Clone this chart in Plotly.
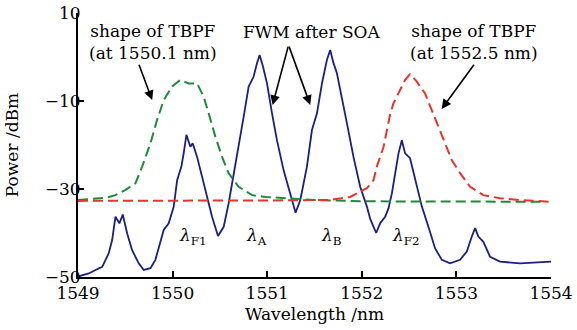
import plotly.graph_objects as go

# FWM after SOA (blue solid)
fwm_wl = [1549.00, 1549.060, 1549.114, 1549.185, 1549.256, 1549.325, 1549.361, 1549.396, 1549.438, 1549.473,
          1549.520, 1549.572, 1549.642, 1549.695, 1549.766, 1549.818, 1549.860, 1549.906, 1549.959, 1550.012,
          1550.048, 1550.093, 1550.117, 1550.146, 1550.188, 1550.212, 1550.259, 1550.312, 1550.364,
          1550.417, 1550.480, 1550.540, 1550.592, 1550.645, 1550.698, 1550.734, 1550.751, 1550.804,
          1550.856, 1550.892, 1550.920, 1550.956, 1550.998, 1551.051, 1551.103, 1551.173, 1551.244,
          1551.300, 1551.350, 1551.420, 1551.473, 1551.526, 1551.579, 1551.631, 1551.666, 1551.701,
          1551.737, 1551.790, 1551.843, 1551.912, 1551.983, 1552.054, 1552.089, 1552.152, 1552.194,
          1552.247, 1552.282, 1552.318, 1552.353, 1552.388, 1552.423, 1552.458, 1552.510, 1552.564,
          1552.635, 1552.704, 1552.775, 1552.846, 1552.933, 1553.039, 1553.110, 1553.163, 1553.198,
          1553.232, 1553.285, 1553.356, 1553.461, 1553.672, 1553.919, 1554.00]
fwm_pw = [-49.9, -49.5, -49.2, -48.4, -47.7, -44.6, -41.6, -36.3, -37.8, -35.8,
          -40.1, -43.9, -46.9, -48.4, -48.0, -46.1, -43.0, -39.3, -37.8, -34.0,
          -28.0, -24.9, -21.9, -17.7, -20.4, -19.6, -22.7, -27.2, -31.8,
          -36.3, -40.7, -38.6, -33.3, -27.0, -20.0, -16.2, -13.6, -6.7,
          -4.5, -1.4, 0.45, -2.2, -6.0, -12.8, -18.9, -25.7, -31.0,
          -35.4, -32.5, -24.9, -16.6, -12.8, -6.0, -0.7, 1.6, -1.4,
          -3.7, -9.0, -15.1, -22.7, -29.5, -34.0, -36.8, -40.0, -37.8,
          -36.3, -34.4, -31.0, -26.4, -21.9, -18.9, -21.9, -23.0, -28.0,
          -34.0, -38.6, -43.5, -46.1, -46.9, -46.1, -44.2, -40.8, -38.9,
          -40.8, -42.0, -45.4, -46.5, -46.9, -46.5, -46.5]

# TBPF at 1550.1 nm (green dashed)
tbpf1_wl = [1549.00, 1549.290, 1549.396, 1549.502, 1549.607, 1549.678, 1549.766, 1549.836, 1549.906,
            1549.995, 1550.082, 1550.170, 1550.259, 1550.328, 1550.381, 1550.452, 1550.523, 1550.592,
            1550.698, 1550.840, 1550.980, 1551.5, 1552.0, 1553.0, 1553.92]
tbpf1_pw = [-32.5, -32.0, -31.4, -30.2, -28.7, -24.9, -19.6, -14.3, -9.8,
            -6.7, -5.2, -6.0, -6.0, -9.0, -12.8, -18.1, -22.7, -26.4,
            -29.5, -31.4, -31.8, -32.5, -32.8, -32.9, -32.9]

# TBPF at 1552.5 nm (red dashed)
tbpf2_wl = [1549.00, 1550.0, 1551.0, 1551.666, 1551.772, 1551.877, 1552.018, 1552.054, 1552.124,
            1552.159, 1552.229, 1552.282, 1552.300, 1552.335, 1552.405, 1552.458, 1552.510, 1552.582,
            1552.669, 1552.740, 1552.810, 1552.881, 1552.951, 1553.039, 1553.145, 1553.285, 1553.461,
            1553.672, 1553.989]
tbpf2_pw = [-32.7, -32.7, -32.6, -32.5, -32.1, -31.8, -30.2, -29.8, -28.0,
            -24.9, -20.5, -15.1, -13.0, -10.5, -7.5, -5.2, -3.9, -5.6,
            -8.3, -12.0, -15.8, -19.6, -23.4, -26.4, -29.5, -31.4, -32.1,
            -32.5, -32.9]

x_ticks = [1549, 1550, 1551, 1552, 1553, 1554]
y_ticks = [10, -10, -30, -50]

FONT = "DejaVu Serif"
FS = 17

fig = go.Figure()
fig.add_trace(go.Scatter(x=fwm_wl, y=fwm_pw, mode="lines",
                         line=dict(color="#1b1f7e", width=1.8), showlegend=False))
fig.add_trace(go.Scatter(x=tbpf1_wl, y=tbpf1_pw, mode="lines",
                         line=dict(color="#1e8a3c", width=2, dash="10px,5px"), showlegend=False))
fig.add_trace(go.Scatter(x=tbpf2_wl, y=tbpf2_pw, mode="lines",
                         line=dict(color="#e8342c", width=2, dash="10px,5px"), showlegend=False))

arrow = dict(axref="x", ayref="y", text="", showarrow=True, arrowhead=2,
             arrowsize=1.2, arrowwidth=1.6, arrowcolor="black")
ann = [
    dict(x=1549.79, y=3.3, text="shape of TBPF<br>(at 1550.1 nm)", showarrow=False),
    dict(x=1551.47, y=5.7, text="FWM after SOA", showarrow=False),
    dict(x=1553.19, y=3.3, text="shape of TBPF<br>(at 1552.5 nm)", showarrow=False),
    dict(x=1550.214, y=-40.8, text="<i>λ</i><sub>F1</sub>", showarrow=False),
    dict(x=1550.885, y=-40.8, text="<i>λ</i><sub>A</sub>", showarrow=False),
    dict(x=1551.677, y=-40.8, text="<i>λ</i><sub>B</sub>", showarrow=False),
    dict(x=1552.464, y=-40.8, text="<i>λ</i><sub>F2</sub>", showarrow=False),
    dict(x=1549.784, y=-9.8, ax=1549.639, ay=-1.4, **arrow),
    dict(x=1551.057, y=-10.9, ax=1551.226, ay=2.7, **arrow),
    dict(x=1551.455, y=-10.9, ax=1551.226, ay=2.7, **arrow),
    dict(x=1552.844, y=-11.8, ax=1553.197, ay=-1.4, **arrow),
]
for a in ann:
    a.setdefault("font", dict(family=FONT, size=FS, color="black"))

fig.update_layout(
    width=577, height=330,
    margin=dict(l=77.5, r=26, t=13, b=53),
    paper_bgcolor="white", plot_bgcolor="white",
    font=dict(family=FONT, size=FS, color="black"),
    annotations=ann,
    xaxis=dict(range=[1549, 1554], tickvals=x_ticks, ticks="inside", ticklen=6, tickwidth=1.5,
               tickcolor="black", showline=True, linecolor="black", linewidth=2,
               showgrid=False, zeroline=False, mirror=False, automargin=False,
               ticklabeloverflow="allow",
               title=dict(text="Wavelength /nm", standoff=6, font=dict(family=FONT, size=FS)),
               tickfont=dict(family=FONT, size=FS)),
    yaxis=dict(range=[-50, 10], tickvals=y_ticks, ticks="inside", ticklen=6, tickwidth=1.5,
               tickcolor="black", showline=True, linecolor="black", linewidth=2,
               showgrid=False, zeroline=False, mirror=False, automargin=False,
               ticklabelstandoff=-8, ticklabeloverflow="allow",
               title=dict(text="Power /dBm", standoff=22, font=dict(family=FONT, size=FS)),
               tickfont=dict(family=FONT, size=FS)),
)

fig.write_html("out.html", config={"displayModeBar": False},
               post_script="document.body.style.margin='0';document.body.style.padding='0';")
